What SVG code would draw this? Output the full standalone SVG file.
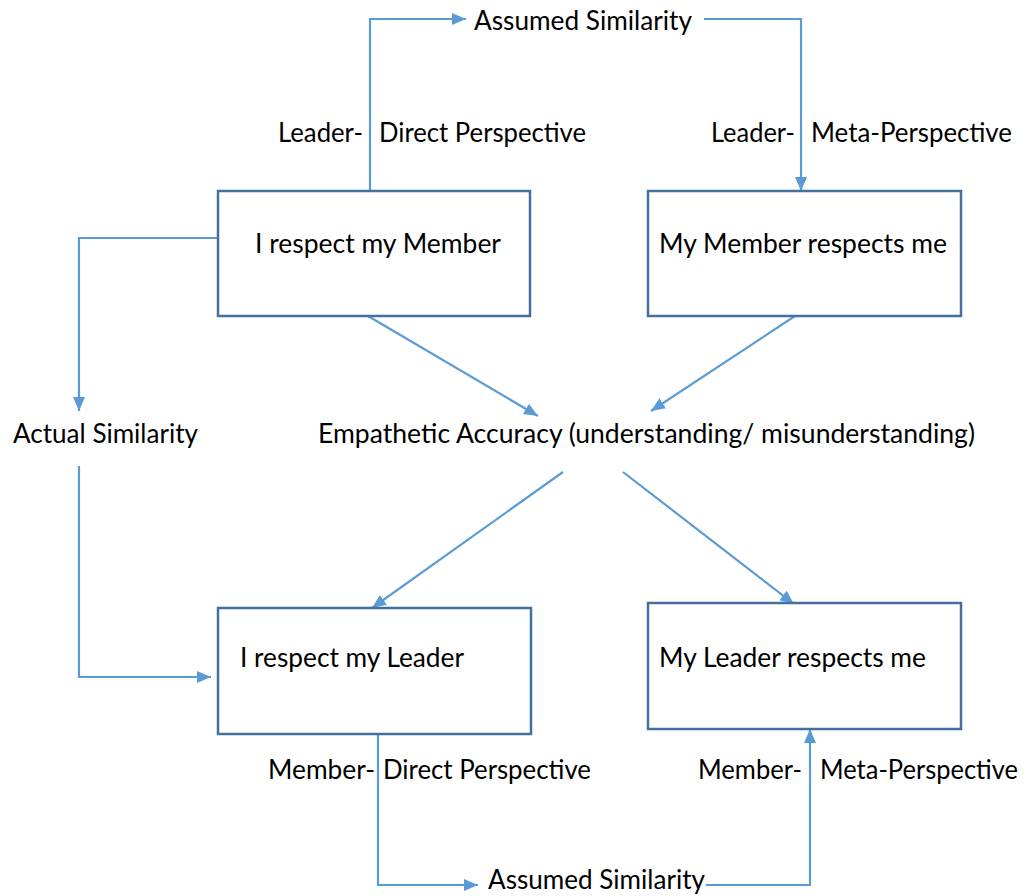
<svg xmlns="http://www.w3.org/2000/svg" width="1027" height="896" viewBox="0 0 1027 896">
  <style>
    .box { fill: #ffffff; stroke: #41719C; stroke-width: 2.5; }
    .conn { fill: none; stroke: #5B9BD5; stroke-width: 2.2; marker-end: url(#arrow); }
    text { font-family: Lato, "Open Sans", "Liberation Sans", sans-serif; font-size: 26px; fill: #000000; }
  </style>
  <defs>
    <marker id="arrow" viewBox="0 0 14 12" refX="14" refY="6" markerWidth="14" markerHeight="12" markerUnits="userSpaceOnUse" orient="auto">
      <path d="M0,0 L14,6 L0,12 Z" fill="#5B9BD5"/>
    </marker>
  </defs>
  <rect width="1027" height="896" fill="#ffffff"/>

  <!-- connectors -->
  <g id="connectors">
    <!-- Leader direct perspective: box -> assumed similarity -->
    <path class="conn" d="M370,191 V19 H466"/>
    <!-- assumed similarity -> leader meta-perspective box -->
    <path class="conn" d="M704,19 H801 V191"/>
    <!-- I respect my Member -> Actual Similarity -->
    <path class="conn" d="M218,238 H79 V411"/>
    <!-- Actual Similarity -> I respect my Leader -->
    <path class="conn" d="M79,466 V677 H211"/>
    <!-- boxes -> empathetic accuracy -->
    <path class="conn" d="M368,316 L538,416"/>
    <path class="conn" d="M795,316 L651,411"/>
    <!-- empathetic accuracy -> bottom boxes -->
    <path class="conn" d="M563,472 L372,608"/>
    <path class="conn" d="M623,472 L794,604"/>
    <!-- Member direct perspective -> assumed similarity -->
    <path class="conn" d="M378,734 V885 H478"/>
    <!-- assumed similarity -> member meta-perspective box -->
    <path class="conn" d="M706,885 H810 V729"/>
  </g>

  <!-- nodes -->
  <g id="node-respect-member">
    <rect class="box" x="218" y="191" width="312" height="125"/>
    <text x="255" y="253" textLength="246" lengthAdjust="spacingAndGlyphs">I respect my Member</text>
  </g>
  <g id="node-member-respects-me">
    <rect class="box" x="648" y="191" width="313" height="125"/>
    <text x="659" y="253" textLength="288" lengthAdjust="spacingAndGlyphs">My Member respects me</text>
  </g>
  <g id="node-respect-leader">
    <rect class="box" x="218" y="608" width="313" height="126"/>
    <text x="240" y="667" textLength="224" lengthAdjust="spacingAndGlyphs">I respect my Leader</text>
  </g>
  <g id="node-leader-respects-me">
    <rect class="box" x="648" y="603" width="313" height="126"/>
    <text x="659" y="667" textLength="267" lengthAdjust="spacingAndGlyphs">My Leader respects me</text>
  </g>

  <g id="label-assumed-top">
    <text x="474" y="30" textLength="218" lengthAdjust="spacingAndGlyphs">Assumed Similarity</text>
  </g>
  <g id="label-leader-direct">
    <text y="141.5"><tspan x="278" textLength="85" lengthAdjust="spacingAndGlyphs">Leader-</tspan><tspan x="379" textLength="207" lengthAdjust="spacingAndGlyphs">Direct Perspective</tspan></text>
  </g>
  <g id="label-leader-meta">
    <text y="141.5"><tspan x="711" textLength="84" lengthAdjust="spacingAndGlyphs">Leader-</tspan><tspan x="811" textLength="201" lengthAdjust="spacingAndGlyphs">Meta-Perspective</tspan></text>
  </g>
  <g id="label-actual">
    <text x="13" y="442.5" textLength="185" lengthAdjust="spacingAndGlyphs">Actual Similarity</text>
  </g>
  <g id="label-empathetic">
    <text x="318" y="442.5" textLength="657" lengthAdjust="spacingAndGlyphs">Empathetic Accuracy (understanding/ misunderstanding)</text>
  </g>
  <g id="label-member-direct">
    <text y="779"><tspan x="268" textLength="107" lengthAdjust="spacingAndGlyphs">Member-</tspan><tspan x="383" textLength="208" lengthAdjust="spacingAndGlyphs">Direct Perspective</tspan></text>
  </g>
  <g id="label-member-meta">
    <text y="779"><tspan x="698" textLength="104" lengthAdjust="spacingAndGlyphs">Member-</tspan><tspan x="820" textLength="198" lengthAdjust="spacingAndGlyphs">Meta-Perspective</tspan></text>
  </g>
  <g id="label-assumed-bottom">
    <text x="488" y="889" textLength="217" lengthAdjust="spacingAndGlyphs">Assumed Similarity</text>
  </g>
</svg>
